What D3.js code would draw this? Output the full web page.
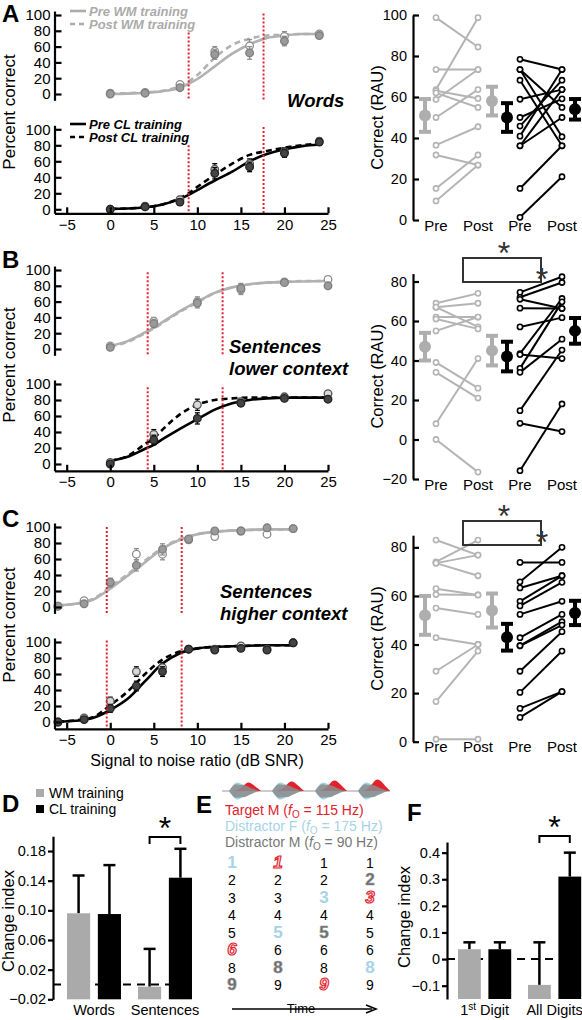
<!DOCTYPE html>
<html><head><meta charset="utf-8">
<script src="https://cdn.jsdelivr.net/npm/d3@7"></script>
<style>body{margin:0;background:#fff}svg{display:block}</style>
</head><body>
<script>
// ================= DATA =================
const snrTicks = [-5,0,5,10,15,20,25];
const pctTicks = [0,20,40,60,80,100];

// Panel A – words
const snrA = [0,4,8,12,16,20,24];
const wmPreA = [0,1,8,50,52,67,74];
const wmPostA = [1,2,12,54,61,73,76];
const wmErrA = [1.5,2,3,6,8,6,3];
const clPreA = [0,3,9,45,53,70,84];
const clPostA = [0,4,12,50,57,72,85];
const clErrA = [1.5,2,4,7,6,5,4];
const curveSnrA = [0,2,4,6,8,9,10,12,14,16,18,20,22,24];
const wmPreCurveA = [0,0.5,1.5,3.5,8,13,19,35,51,63,71,74,76,76];
const wmPostCurveA = [0.5,1,2,4,10,16,24,46,62,70,74,75,76,76];
const clPreCurveA = [0.5,1,2.5,6,13,18,24,36,47,60,69,75,79,81];
const clPostCurveA = [0.5,1,2.5,6,14,20,28,43,57,68,73,77,80,82];
const redA = [9, 17.6];

// Panel B – sentences lower context
const snrB = [0,5,10,15,20,25];
const wmPreB = [2,32,58,77,84,80];
const wmPostB = [4,35,60,75,85,88];
const wmErrB = [2,5,6,6,3,3];
const clPreB = [0,30,57,76,82,81];
const clPostB = [2,37,74,78,84,88];
const clErrB = [2,6,7,4,3,3];
const curveSnrB = [0,2,4,5,6,8,10,12,14,16,18,20,22,25];
const wmPreCurveB = [4,10,21,27,34,48,60,71,78,82,84,85,85.5,86];
const wmPostCurveB = [3,9,20,26,33,47,59,71,78,82,84,85,86,86];
const clPreCurveB = [4,9,19,24,31,44,56,68,76,80,82,83,83,83];
const clPostCurveB = [4,10,25,32,43,62,74,80,82,83,83,83,83,83];
const redB = [4.3, 12.9];

// Panel C – sentences higher context
const snrC = [-6,-3,0,3,6,9,12,15,18,21];
const wmPreC = [1,4,31,52,72,85,95,95,99,98];
const wmPostC = [1,8,30,66,66,84,88,95,91,98];
const wmErrC = [1.5,3,5,7,7,4,3,2,3,2];
const clPreC = [0,3,17,45,63,91,90,92,90,99];
const clPostC = [0,5,26,63,68,91,91,95,91,99];
const clErrC = [1.5,3,5,6,6,3,3,2,3,2];
const curveSnrC = [-6,-4,-2,0,2,4,6,8,10,12,15,18,21];
const wmPreCurveC = [2,4,9,23,39,56,73,84,91,94,96,97,97];
const wmPostCurveC = [2,4,10,25,41,58,74,85,91,94,96,96.5,96.5];
const clPreCurveC = [0.5,1.5,5,15,29,51,73,86,92,94,95,96,96];
const clPostCurveC = [0.5,2,6,21,38,60,78,88,92,94,95,96,96];
const redC = [-0.4, 8.2];

// Right panels: individual RAU scores (pre -> post)
const rauGroups = ["WM Pre","WM Post","CL Pre","CL Post"];
const rauLabels = ["Pre","Post","Pre","Post"];
const wmPreRauA = [98.7,73.4,63.6,63,62,58.8,50,36.5,31.7,15.4,9.3];
const wmPostRauA = [84.4,73.4,98.7,59.3,54.9,73.4,63.6,45.5,26.8,31.7,26.8];
const clPreRauA = [78.4,73.4,73.4,68.2,58.9,50,45.8,40.9,36.2,36.2,15.4,1.3];
const clPostRauA = [73.4,54.9,40.6,36.2,63.6,59.1,68.2,73.4,50,63.6,36.2,21.1];
const meanRauA = [51,58,50,54];
const semRauA = [8,7,7,5];

const wmPreRauB = [69,67,67,62,61,55,39,34,8,0];
const wmPostRauB = [74,69,57,62,56,62,26,21,41,-16.5];
const clPreRauB = [74.5,72,71,66.5,57,43.5,43,36,34,14.6,8.2,-15.8];
const clPostRauB = [82.4,79.5,66.3,66.3,61.7,71.4,41,69.7,50.8,45.3,4,18];
const meanRauB = [47,45,42,55];
const semRauB = [7,7.5,7.5,6.5];

const wmPreRauC = [83,74,73.5,73.5,63,60.6,55,42.8,29,16.5,1];
const wmPostRauC = [76.8,83,76.8,68.3,60.4,60.4,52.4,40,40,37.3,1];
const clPreRauC = [73.8,65.8,63.3,57.8,55.9,52.4,42.8,39.5,39.5,29,20.3,13.7,10];
const clPostRauC = [73.8,80,68.3,68.3,65.6,57.8,52.4,49.4,48,45.3,37.3,20.6,20.6];
const meanRauC = [52,54,43,53];
const semRauC = [8,7,5.5,5];

// Panel D
const dCats = ["Words","Sentences"];
const dWM = [0.096,-0.003];
const dWMTop = [0.147,0.048];
const dCL = [0.095,0.144];
const dCLTop = [0.161,0.183];
const dTicks = [-0.02,0.02,0.06,0.10,0.14,0.18];

// Panel F
const fCats = ["1st Digit","All Digits"];
const fWM = [0.037,-0.097];
const fWMTop = [0.063,0.063];
const fCL = [0.037,0.31];
const fCLTop = [0.063,0.40];
const fTicks = [-0.1,0,0.1,0.2,0.3,0.4];

// Panel E
const digitRows = ["1","2","3","4","5","6","8","9"];
const digitCols = [
  ["B","","","","","R","","G"],
  ["R","","","","B","","G",""],
  ["","","B","","G","","","R"],
  ["","G","R","","","","B",""]
];
const talkers = [
  {name:"Target M", f0:"115", cls:"R"},
  {name:"Distractor F", f0:"175", cls:"B"},
  {name:"Distractor M", f0:"90", cls:"G"}
];
const syllX = [0,1,2,3];
const envBlue = [0,0.5,0.9,1,0.8,0.7,0.55,0.4,0.25,0.1,0];
const envGray = [0,0.6,1,0.95,0.85,0.9,0.7,0.5,0.3,0.15,0];
const envRed  = [0,0,0.1,0.3,0.6,1,1.1,0.9,0.6,0.3,0];

// ================= DRAWING =================
const FONT = "'Liberation Sans', Arial, Helvetica, sans-serif";
const RED = "#e1222d", GRAY = "#aaaaaa", BLUE = "#a6d3e6", DGRAY = "#6b6b6b";
const svg = d3.select("body").append("svg").attr("width",582).attr("height",1020)
  .style("font-family",FONT);

function styleAxis(g, fs, sw){
  g.selectAll("path.domain").attr("stroke","#000").attr("stroke-width",sw||2.2);
  g.selectAll(".tick line").attr("stroke","#000").attr("stroke-width",sw||2.2);
  g.selectAll(".tick text").attr("fill","#000").style("font-size",fs+"px").style("font-family",FONT);
}

const xSnr = d3.scaleLinear().domain([-6.4,25]).range([54.5,328]);

function psySub(o){
  const y = d3.scaleLinear().domain([0,100]).range([o.y0,o.y100]);
  const ya = d3.scaleLinear().domain([o.lo,o.hi]).range([y(o.lo),y(o.hi)]);
  const g = svg.append("g");
  const line = d3.line().x(d=>xSnr(d[0])).y(d=>y(d[1])).curve(d3.curveMonotoneX);
  o.curves.forEach(c=>{
    g.append("path").attr("d",line(d3.zip(c.x,c.y))).attr("fill","none")
      .attr("stroke",c.color).attr("stroke-width",2.6)
      .attr("stroke-dasharray",c.dash?"6,4":null);
  });
  o.points.forEach(pt=>{
    pt.x.forEach((sx,i)=>{
      const cx = xSnr(sx), v = pt.y[i], e = pt.err[i];
      g.append("line").attr("x1",cx).attr("x2",cx).attr("y1",y(v-e)).attr("y2",y(v+e))
        .attr("stroke",pt.eb).attr("stroke-width",1.3);
      [v-e,v+e].forEach(w=>g.append("line").attr("x1",cx-2.5).attr("x2",cx+2.5)
        .attr("y1",y(w)).attr("y2",y(w)).attr("stroke",pt.eb).attr("stroke-width",1.3));
      g.append("circle").attr("cx",cx).attr("cy",y(v)).attr("r",3.8)
        .attr("fill",pt.fill).attr("stroke",pt.stroke).attr("stroke-width",1.3);
    });
  });
  o.red.forEach((r,i)=>{
    g.append("line").attr("x1",xSnr(r)).attr("x2",xSnr(r))
      .attr("y1",y(o.redTop[i])).attr("y2",ya(o.lo))
      .attr("stroke",RED).attr("stroke-width",2).attr("stroke-dasharray","2,2");
  });
  const ax = g.append("g").attr("transform",`translate(${xSnr(-6.4)},0)`)
    .call(d3.axisLeft(ya).tickValues(pctTicks).tickSize(-7).tickSizeOuter(0).tickPadding(4));
  styleAxis(ax,15);
  if(o.xAxis){
    const bx = g.append("g").attr("transform",`translate(0,${ya(o.lo)})`)
      .call(d3.axisBottom(xSnr).tickValues(snrTicks).tickSize(-6).tickSizeOuter(0).tickPadding(6));
    styleAxis(bx,15);
  }
  return y;
}

function psyPanel(P){
  psySub({y0:P.top[0],y100:P.top[1],lo:-8,hi:105,red:P.red,redTop:P.redTopT,
    curves:[{x:P.cx,y:P.wmPreC,color:"#b1b1b1"},{x:P.cx,y:P.wmPostC,color:"#b1b1b1",dash:true}],
    points:[{x:P.snr,y:P.wmPost,err:P.wmErr,fill:"#fff",stroke:"#8e8e8e",eb:"#8e8e8e"},
            {x:P.snr,y:P.wmPre,err:P.wmErr,fill:"#9a9a9a",stroke:"#7e7e7e",eb:"#8e8e8e"}]});
  psySub({y0:P.bot[0],y100:P.bot[1],lo:P.botLo,hi:105,red:P.red,redTop:P.redTopB,xAxis:true,
    curves:[{x:P.cx,y:P.clPreC,color:"#000"},{x:P.cx,y:P.clPostC,color:"#000",dash:true}],
    points:[{x:P.snr,y:P.clPost,err:P.clErr,fill:"#d9d9d9",stroke:"#555",eb:"#000"},
            {x:P.snr,y:P.clPre,err:P.clErr,fill:"#444",stroke:"#222",eb:"#000"}]});
  svg.append("text").attr("transform",`translate(15,${P.ylabY}) rotate(-90)`)
    .attr("text-anchor","middle").style("font-size","17px").text("Percent correct");
}

psyPanel({top:[94,15],bot:[209.3,129.3],botLo:-5,red:redA,redTopT:[78,102],redTopB:[80,103],
  snr:snrA,cx:curveSnrA,wmPre:wmPreA,wmPost:wmPostA,wmErr:wmErrA,clPre:clPreA,clPost:clPostA,clErr:clErrA,
  wmPreC:wmPreCurveA,wmPostC:wmPostCurveA,clPreC:clPreCurveA,clPostC:clPostCurveA,ylabY:112});
psyPanel({top:[349,270],bot:[464,384],botLo:-8.5,red:redB,redTopT:[97,97],redTopB:[96,96],
  snr:snrB,cx:curveSnrB,wmPre:wmPreB,wmPost:wmPostB,wmErr:wmErrB,clPre:clPreB,clPost:clPostB,clErr:clErrB,
  wmPreC:wmPreCurveB,wmPostC:wmPostCurveB,clPreC:clPreCurveB,clPostC:clPostCurveB,ylabY:365});
psyPanel({top:[607,527],bot:[722,642],botLo:-8.5,red:redC,redTopT:[100,100],redTopB:[102,102],
  snr:snrC,cx:curveSnrC,wmPre:wmPreC,wmPost:wmPostC,wmErr:wmErrC,clPre:clPreC,clPost:clPostC,clErr:clErrC,
  wmPreC:wmPreCurveC,wmPostC:wmPostCurveC,clPreC:clPreCurveC,clPostC:clPostCurveC,ylabY:625});

svg.append("text").attr("x",197).attr("y",766).attr("text-anchor","middle")
  .style("font-size","16px").text("Signal to noise ratio (dB SNR)");

// legends in A
function legendItem(x,y,dash,color,label){
  svg.append("line").attr("x1",x).attr("x2",x+16).attr("y1",y).attr("y2",y)
    .attr("stroke",color).attr("stroke-width",2.6).attr("stroke-dasharray",dash?"5,4":null);
  svg.append("text").attr("x",x+19).attr("y",y+4.5).attr("fill",color)
    .style("font-size","13px").style("font-weight","bold").style("font-style","italic").text(label);
}
legendItem(70,11,false,"#ababab","Pre WM training");
legendItem(70,24,true,"#ababab","Post WM training");
legendItem(70,124,false,"#000","Pre CL training");
legendItem(70,137,true,"#000","Post CL training");

function condLabel(x,y,lines){
  lines.forEach((t,i)=>svg.append("text").attr("x",x).attr("y",y+i*22)
    .style("font-size","18.5px").style("font-weight","bold").style("font-style","italic").text(t));
}
condLabel(287,107,["Words"]);
condLabel(229,353,["Sentences","lower context"]);
condLabel(220,598,["Sentences","higher context"]);

// ============ Right panels ============
const xR = d3.scalePoint().domain(rauGroups).range([436,562]);
const meanOff = [-11,14,-13,13];
function rauPanel(o){
  const y = d3.scaleLinear().domain([o.lo,o.hi]).range([o.yLo,o.yHi]);
  const g = svg.append("g");
  const pairs = [[o.wmPre,o.wmPost,"#b4b4b4",0],[o.clPre,o.clPost,"#000",2]];
  pairs.forEach(([pre,post,col,k])=>{
    pre.forEach((v,i)=>{
      g.append("line").attr("x1",xR(rauGroups[k])).attr("x2",xR(rauGroups[k+1]))
        .attr("y1",y(v)).attr("y2",y(post[i])).attr("stroke",col).attr("stroke-width",2);
    });
    pre.forEach(v=>g.append("circle").attr("cx",xR(rauGroups[k])).attr("cy",y(v)).attr("r",2.6)
      .attr("fill","#fff").attr("stroke",col).attr("stroke-width",1.6));
    post.forEach(v=>g.append("circle").attr("cx",xR(rauGroups[k+1])).attr("cy",y(v)).attr("r",2.6)
      .attr("fill","#fff").attr("stroke",col).attr("stroke-width",1.6));
  });
  rauGroups.forEach((grp,i)=>{
    const cx = xR(grp)+meanOff[i], col = i<2?"#aeaeae":"#000";
    const m=o.mean[i], s=o.sem[i];
    g.append("line").attr("x1",cx).attr("x2",cx).attr("y1",y(m-s)).attr("y2",y(m+s))
      .attr("stroke",col).attr("stroke-width",4);
    [m-s,m+s].forEach(w=>g.append("line").attr("x1",cx-6).attr("x2",cx+6).attr("y1",y(w)).attr("y2",y(w))
      .attr("stroke",col).attr("stroke-width",4));
    g.append("circle").attr("cx",cx).attr("cy",y(m)).attr("r",6).attr("fill",col);
  });
  const ax = g.append("g").attr("transform",`translate(413,0)`)
    .call(d3.axisLeft(y).tickValues(o.ticks).tickSize(-6).tickSizeOuter(0).tickPadding(6));
  styleAxis(ax,14.5);
  rauGroups.forEach((grp,i)=>g.append("text").attr("x",xR(grp)).attr("y",o.yLo+10.5)
    .attr("text-anchor","middle").style("font-size","15px").text(rauLabels[i]));
  svg.append("text").attr("transform",`translate(383,${(o.yLo+o.yHi)/2}) rotate(-90)`)
    .attr("text-anchor","middle").style("font-size","16.5px").text("Correct (RAU)");
  if(o.bracket){
    const b=o.bracket;
    g.append("rect").attr("x",463).attr("y",b).attr("width",78).attr("height",24)
      .attr("fill","none").attr("stroke","#333").attr("stroke-width",2);
    g.append("text").attr("x",504).attr("y",b+6).attr("text-anchor","middle")
      .attr("fill","#333").style("font-size","32px").text("*");
    g.append("text").attr("x",542).attr("y",b+32).attr("text-anchor","middle")
      .attr("fill","#333").style("font-size","32px").text("*");
  }
}
rauPanel({lo:0,hi:100,yLo:220,yHi:15,ticks:[0,20,40,60,80,100],
  wmPre:wmPreRauA,wmPost:wmPostRauA,clPre:clPreRauA,clPost:clPostRauA,mean:meanRauA,sem:semRauA});
rauPanel({lo:-20,hi:84,yLo:479,yHi:273.6,ticks:[-20,0,20,40,60,80],
  wmPre:wmPreRauB,wmPost:wmPostRauB,clPre:clPreRauB,clPost:clPostRauB,mean:meanRauB,sem:semRauB,bracket:258});
rauPanel({lo:0,hi:85,yLo:741.7,yHi:535.2,ticks:[0,20,40,60,80],
  wmPre:wmPreRauC,wmPost:wmPostRauC,clPre:clPreRauC,clPost:clPostRauC,mean:meanRauC,sem:semRauC,bracket:521});

// ============ Bar panels D & F ============
function barPanel(o){
  const y = d3.scaleLinear().domain(o.dom).range([o.yBot,o.yTop]);
  const x0 = d3.scaleBand().domain(o.cats).range(o.xr).paddingInner(0.24).paddingOuter(0.12);
  const x1 = d3.scaleBand().domain(["wm","cl"]).range([0,x0.bandwidth()]).paddingInner(0.25);
  const g = svg.append("g");
  g.append("line").attr("x1",o.axX).attr("x2",Math.min(582,x0(o.cats[1])+x0.bandwidth())).attr("y1",y(0)).attr("y2",y(0))
    .attr("stroke","#000").attr("stroke-width",2).attr("stroke-dasharray","8,6");
  o.cats.forEach((c,i)=>{
    [["wm",o.wm[i],o.wmTop[i],GRAY],["cl",o.cl[i],o.clTop[i],"#000"]].forEach(([k,v,t,col])=>{
      const bx = x0(c)+x1(k), cx = bx+x1.bandwidth()/2;
      g.append("line").attr("x1",cx).attr("x2",cx).attr("y1",y(v)).attr("y2",y(t))
        .attr("stroke","#000").attr("stroke-width",2.5);
      g.append("line").attr("x1",cx-6).attr("x2",cx+6).attr("y1",y(t)).attr("y2",y(t))
        .attr("stroke","#000").attr("stroke-width",2.5);
      g.append("rect").attr("x",bx).attr("y",y(v)).attr("width",x1.bandwidth())
        .attr("height",o.yBot-y(v)).attr("fill",col);
    });
    const t = g.append("text").attr("x",x0(c)+x0.bandwidth()/2).attr("y",1015)
      .attr("text-anchor","middle").style("font-size","14.5px");
    if(c==="1st Digit"){
      t.append("tspan").text("1");
      t.append("tspan").attr("dy",-5).style("font-size","10px").text("st");
      t.append("tspan").attr("dy",5).text(" Digit");
    } else t.text(c);
  });
  const ax = g.append("g").attr("transform",`translate(${o.axX},0)`)
    .call(d3.axisLeft(y).tickValues(o.ticks).tickSize(5).tickSizeOuter(0).tickPadding(2).tickFormat(o.fmt));
  styleAxis(ax,14.5,2.2);
  const c2 = o.cats[1];
  const xa = x0(c2)+x1("wm")+x1.bandwidth()/2, xb = x0(c2)+x1("cl")+x1.bandwidth()/2;
  g.append("path").attr("d",`M${xa},${o.brY+7}V${o.brY}H${xb}V${o.brY+7}`)
    .attr("fill","none").attr("stroke","#000").attr("stroke-width",2);
  g.append("text").attr("x",(xa+xb)/2).attr("y",o.brY+2).attr("text-anchor","middle")
    .style("font-size","32px").text("*");
  svg.append("text").attr("transform",`translate(${o.labX},${o.labY}) rotate(-90)`)
    .attr("text-anchor","middle").style("font-size","16.5px").text("Change index");
}
barPanel({cats:dCats,wm:dWM,wmTop:dWMTop,cl:dCL,clTop:dCLTop,ticks:dTicks,dom:[-0.02,0.2],
  yBot:999.3,yTop:836.2,xr:[58.5,200.5],axX:53,brY:837,labX:14,labY:921,fmt:d3.format(".2f")});
barPanel({cats:fCats,wm:fWM,wmTop:fWMTop,cl:fCL,clTop:fCLTop,ticks:fTicks,dom:[-0.15,0.44],
  yBot:999,yTop:842,xr:[449.6,589.6],axX:447,brY:836,labX:410,labY:917,
  fmt:d=>d===0?"0":d3.format(".1f")(d)});

// legend D
[["WM training",GRAY,796],["CL training","#000",812]].forEach(([t,c,yy])=>{
  svg.append("rect").attr("x",36).attr("y",yy-7).attr("width",8).attr("height",8).attr("fill",c);
  svg.append("text").attr("x",49).attr("y",yy+1.5).style("font-size","14px").text(t);
});

// ============ Panel E ============
const xSyl = d3.scaleLinear().domain([0,3]).range([243,372]);
const gE = svg.append("g");
const wy = 791;
gE.append("line").attr("x1",222).attr("x2",390).attr("y1",wy).attr("y2",wy).attr("stroke","#999").attr("stroke-width",1);
const envX = d3.scaleLinear().domain([0,envGray.length-1]).range([-14,16]);
syllX.forEach(s=>{
  const cx = xSyl(s);
  const areaSym = (env,amp)=>d3.area().x((d,i)=>cx+envX(i)).y0((d)=>wy+d*amp).y1(d=>wy-d*amp).curve(d3.curveBasis)(env);
  gE.append("path").attr("d",areaSym(envBlue,9)).attr("fill",BLUE);
  gE.append("path").attr("d",d3.area().x((d,i)=>cx+envX(i)+2).y0(wy).y1(d=>wy-d*(8+s)).curve(d3.curveBasis)(envRed)).attr("fill",RED);
  gE.append("path").attr("d",areaSym(envGray,7)).attr("fill","#8c8c8c").attr("opacity",0.85);
});
talkers.forEach((t,i)=>{
  const col = t.cls==="R"?RED:(t.cls==="B"?BLUE:"#777");
  const tx = gE.append("text").attr("x",225).attr("y",815+i*16).attr("fill",col).style("font-size","14px");
  tx.append("tspan").text(t.name+" (");
  tx.append("tspan").style("font-style","italic").text("f");
  tx.append("tspan").attr("dy",3).style("font-size","10px").text("O");
  tx.append("tspan").attr("dy",-3).text(" = "+t.f0+" Hz)");
});
const xCol = d3.scalePoint().domain([0,1,2,3]).range([232,370]);
const yRow = d3.scalePoint().domain(d3.range(digitRows.length)).range([868,990]);
digitCols.forEach((col,ci)=>{
  col.forEach((cls,ri)=>{
    const t = gE.append("text").attr("x",xCol(ci)).attr("y",yRow(ri)).attr("text-anchor","middle")
      .text(digitRows[ri]);
    if(cls===""){ t.style("font-size","14px"); }
    else if(cls==="R"){ t.style("font-size","17px").style("font-weight","bold").style("font-style","italic")
      .attr("fill","#fde2e2").attr("stroke",RED).attr("stroke-width",1.1); }
    else if(cls==="B"){ t.style("font-size","17px").style("font-weight","bold").attr("fill",BLUE); }
    else { t.style("font-size","17px").style("font-weight","bold").attr("fill",DGRAY).attr("stroke","#999").attr("stroke-width",0.6); }
  });
});
gE.append("text").attr("x",301).attr("y",1013).attr("text-anchor","middle").style("font-size","13px").text("Time");
gE.append("line").attr("x1",232).attr("x2",372).attr("y1",1009).attr("y2",1009).attr("stroke","#000").attr("stroke-width",1.6);
gE.append("path").attr("d","M366,1005L376,1009L366,1013").attr("fill","none").attr("stroke","#000").attr("stroke-width",1.6);

// ============ Panel letters ============
[["A",2,22],["B",2,268],["C",2,527],["D",2,812],["E",196,813],["F",407,821]].forEach(([t,x,y])=>{
  svg.append("text").attr("x",x).attr("y",y).style("font-size","24px").style("font-weight","bold").text(t);
});
</script>
</body></html>
